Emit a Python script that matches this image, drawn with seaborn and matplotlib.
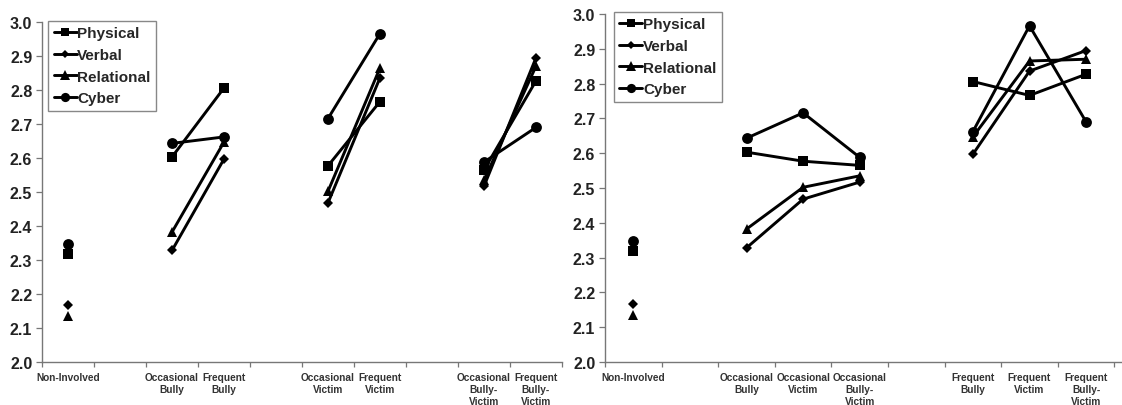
import matplotlib
matplotlib.use("Agg")
import matplotlib.pyplot as plt
from matplotlib.lines import Line2D
import seaborn as sns
import pandas as pd

# Valeurs (moyennes par groupe)
groupes = ["Non-Involved", "Occasional Bully", "Frequent Bully",
           "Occasional Victim", "Frequent Victim",
           "Occasional Bully-Victim", "Frequent Bully-Victim"]
physical = [2.318, 2.603, 2.806, 2.577, 2.766, 2.565, 2.827]
verbal = [2.167, 2.328, 2.597, 2.468, 2.836, 2.517, 2.895]
relational = [2.135, 2.382, 2.647, 2.502, 2.865, 2.535, 2.870]
cyber = [2.347, 2.643, 2.662, 2.716, 2.966, 2.588, 2.690]

types = ["Physical", "Verbal", "Relational", "Cyber"]
series = {"Physical": physical, "Verbal": verbal,
          "Relational": relational, "Cyber": cyber}

# libellés des catégories sur l'axe x
tick_labels = {
    "Non-Involved": "Non-Involved",
    "Occasional Bully": "Occasional\nBully",
    "Frequent Bully": "Frequent\nBully",
    "Occasional Victim": "Occasional\nVictim",
    "Frequent Victim": "Frequent\nVictim",
    "Occasional Bully-Victim": "Occasional\nBully-\nVictim",
    "Frequent Bully-Victim": "Frequent\nBully-\nVictim",
}

# ordre des emplacements (None = emplacement vide) et segments reliés
ordre_gauche = ["Non-Involved", None, "Occasional Bully", "Frequent Bully", None,
                "Occasional Victim", "Frequent Victim", None,
                "Occasional Bully-Victim", "Frequent Bully-Victim"]
segments_gauche = [["Non-Involved"],
                   ["Occasional Bully", "Frequent Bully"],
                   ["Occasional Victim", "Frequent Victim"],
                   ["Occasional Bully-Victim", "Frequent Bully-Victim"]]

ordre_droite = ["Non-Involved", None, "Occasional Bully", "Occasional Victim",
                "Occasional Bully-Victim", None, "Frequent Bully",
                "Frequent Victim", "Frequent Bully-Victim", None]
segments_droite = [["Non-Involved"],
                   ["Occasional Bully", "Occasional Victim", "Occasional Bully-Victim"],
                   ["Frequent Bully", "Frequent Victim", "Frequent Bully-Victim"]]

style_marqueurs = {"Physical": ("s", 7.2), "Verbal": ("D", 5.0),
                   "Relational": ("^", 7.8), "Cyber": ("o", 7.8)}

sns.set_style("ticks")
plt.rcParams["font.family"] = ["Liberation Sans", "DejaVu Sans"]
plt.rcParams["font.weight"] = "bold"


def construire_df(ordre, segments):
    rows = []
    for t in types:
        for k, seg in enumerate(segments):
            for g in seg:
                rows.append({"type": t, "segment": k,
                             "pos": ordre.index(g) + 0.5,
                             "valeur": series[t][groupes.index(g)]})
    return pd.DataFrame(rows)


def tracer(ax, ordre, segments, legend_anchor):
    df = construire_df(ordre, segments)
    for t in types:
        m, ms = style_marqueurs[t]
        sns.lineplot(data=df[df["type"] == t], x="pos", y="valeur",
                     units="segment", estimator=None, color="black",
                     marker=m, markersize=ms, markeredgewidth=0,
                     linewidth=2.1, ax=ax, legend=False)

    ax.set_xlim(0, len(ordre))
    ax.set_ylim(2.0, 3.0)
    ax.set_yticks([2.0 + i * 0.1 for i in range(11)])
    ax.set_yticklabels([f"{2.0 + i * 0.1:.1f}" for i in range(11)],
                       fontsize=11.5, fontweight="bold", color="#222222")
    ax.set_xticks(range(len(ordre) + 1))
    ax.set_xticklabels([])
    pos_lab = [i + 0.5 for i, g in enumerate(ordre) if g]
    ax.set_xticks(pos_lab, minor=True)
    ax.set_xticklabels([tick_labels[g] for g in ordre if g], minor=True,
                       fontsize=7.3, fontweight="bold", color="#333333",
                       linespacing=1.25)
    ax.tick_params(axis="x", which="minor", length=0, pad=7)
    ax.tick_params(axis="x", which="major", length=3.5, width=0.9,
                   color="#777777", direction="out")
    ax.tick_params(axis="y", length=4, width=0.9, color="#777777", pad=3)
    ax.set_xlabel("")
    ax.set_ylabel("")
    for s in ["top", "right"]:
        ax.spines[s].set_visible(False)
    for s in ["left", "bottom"]:
        ax.spines[s].set_color("#777777")
        ax.spines[s].set_linewidth(1.0)

    handles = [Line2D([], [], color="black", linewidth=2.1,
                      marker=style_marqueurs[t][0],
                      markersize=style_marqueurs[t][1] * 0.85,
                      markeredgewidth=0) for t in types]
    leg = ax.legend(handles, types, loc="upper left",
                    bbox_to_anchor=legend_anchor, borderaxespad=0,
                    frameon=True, fancybox=False, framealpha=1,
                    edgecolor="#888888", handlelength=1.5,
                    handletextpad=0.05, labelspacing=0.5,
                    borderpad=0.35, prop={"size": 11, "weight": "bold"})
    leg.get_frame().set_linewidth(1.0)


fig = plt.figure(figsize=(11.22, 4.06), dpi=100)
ax1 = fig.add_axes([42 / 1122, 1 - 363 / 406, 520 / 1122, 340 / 406])
ax2 = fig.add_axes([605 / 1122, 1 - 363 / 406, 566 / 1122, 348 / 406])

tracer(ax1, ordre_gauche, segments_gauche, (0.012, 1.003))
tracer(ax2, ordre_droite, segments_droite, (0.016, 1.006))

fig.savefig("out.png", dpi=100)
